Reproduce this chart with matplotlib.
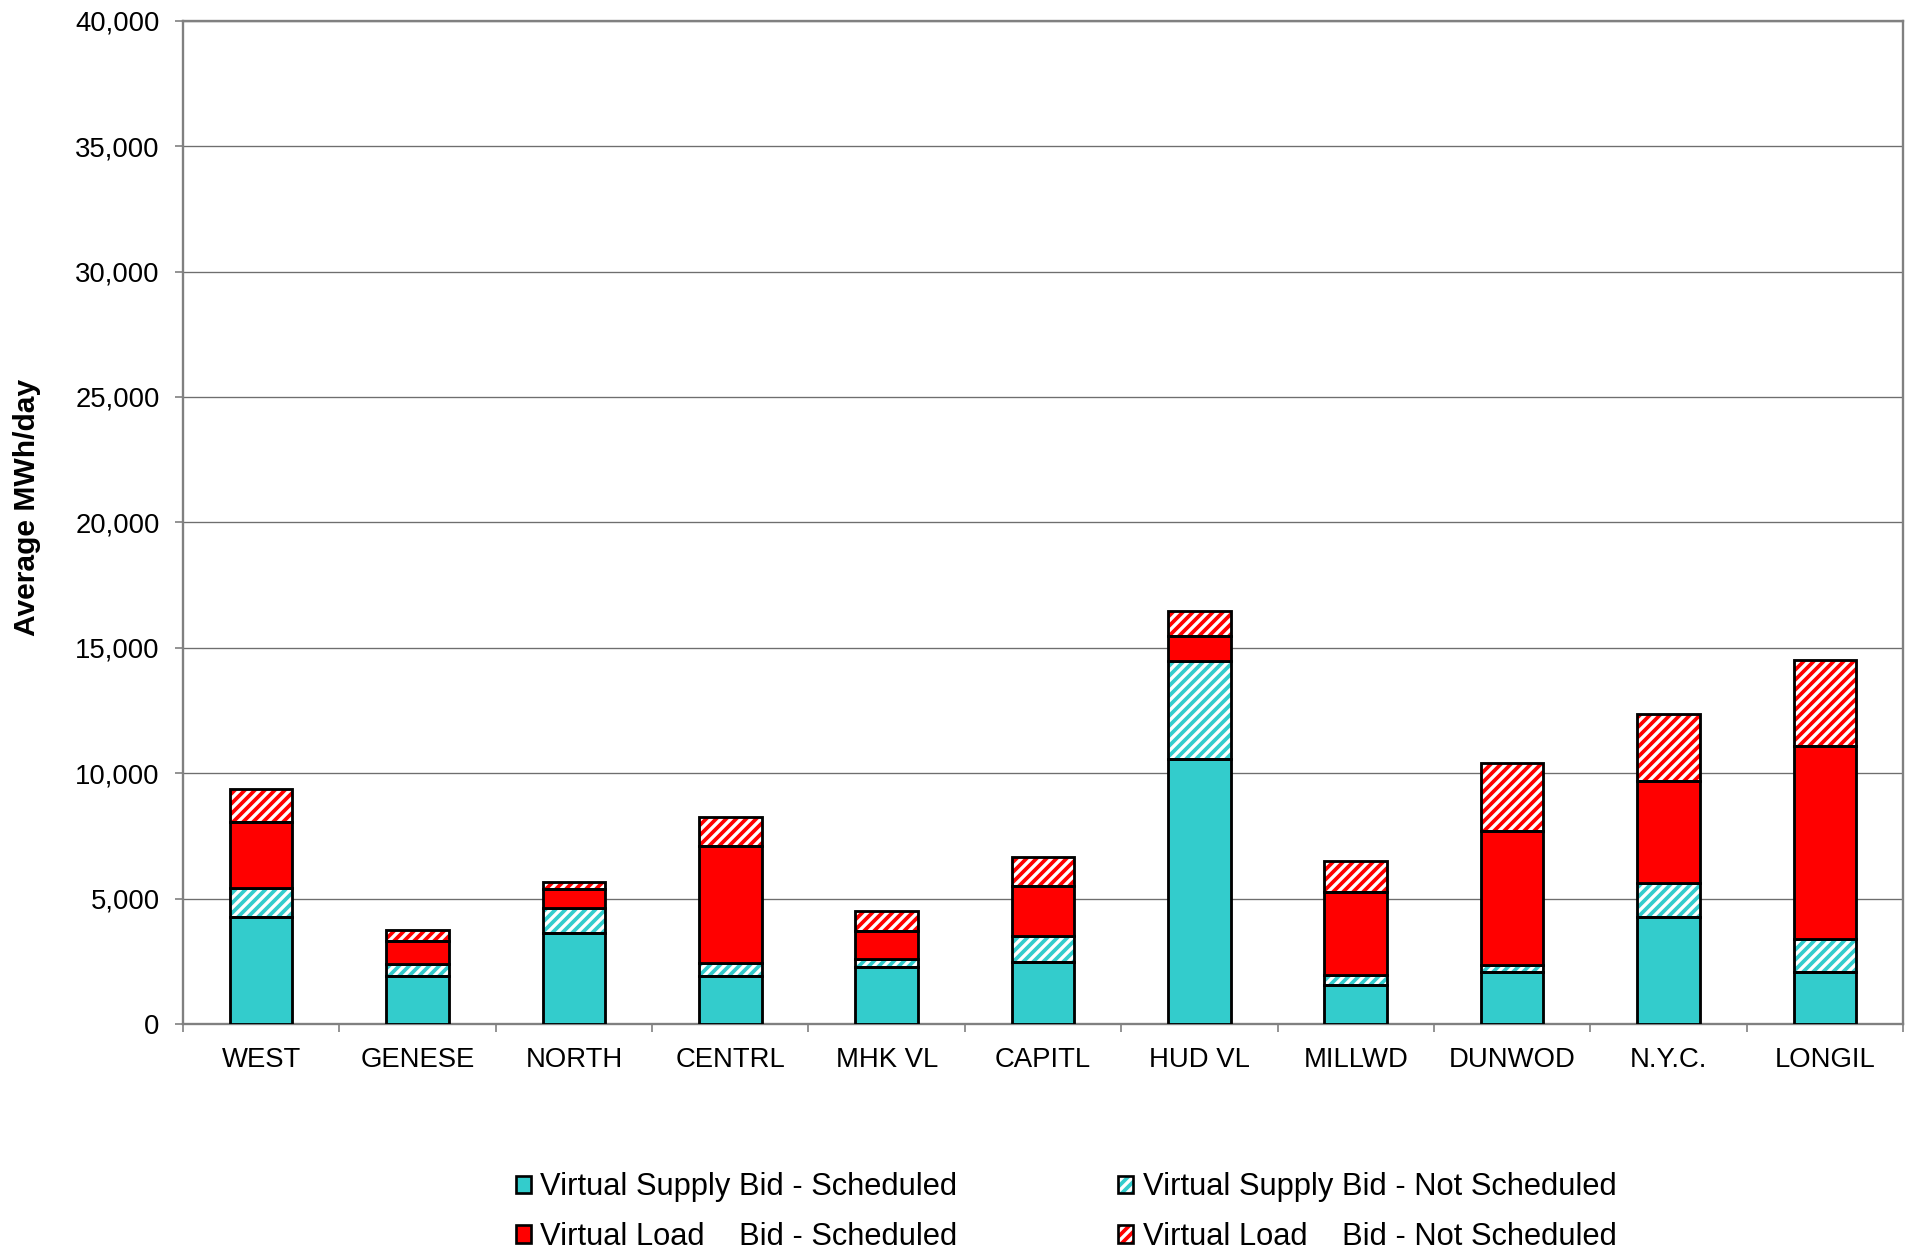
import matplotlib
matplotlib.use("Agg")
import matplotlib.pyplot as plt
from matplotlib.patches import Patch
from matplotlib.legend_handler import HandlerTuple
import numpy as np

# values (MWh/day)
ZONES = ["WEST", "GENESE", "NORTH", "CENTRL", "MHK VL", "CAPITL",
         "HUD VL", "MILLWD", "DUNWOD", "N.Y.C.", "LONGIL"]
SUPPLY_SCHED = [4250, 1900, 3625, 1900, 2270, 2470, 10570, 1570, 2060, 4260, 2060]
SUPPLY_NOT_SCHED = [1170, 490, 1000, 530, 330, 1050, 3920, 370, 300, 1380, 1340]
LOAD_SCHED = [2650, 900, 770, 4650, 1090, 1990, 980, 3320, 5340, 4050, 7700]
LOAD_NOT_SCHED = [1300, 470, 265, 1170, 820, 1140, 980, 1250, 2700, 2660, 3400]

LABELS = ["Virtual Supply Bid - Scheduled",
          "Virtual Supply Bid - Not Scheduled",
          "Virtual Load    Bid - Scheduled",
          "Virtual Load    Bid - Not Scheduled"]

TEAL = "#33CCCC"
RED = "#FF0000"
GREY = "#808080"
DPI = 120
W_PX, H_PX = 1913, 1252

plt.rcParams["font.family"] = ["Liberation Sans", "DejaVu Sans"]
plt.rcParams["hatch.linewidth"] = 2.0


def stack_segment(ax, x, vals, bottom, color, hatched):
    if hatched:
        ax.bar(x, vals, 0.4, bottom=bottom, color=color, edgecolor="white",
               hatch="////", linewidth=0, zorder=2)
        ax.bar(x, vals, 0.4, bottom=bottom, fill=False, edgecolor="black",
               linewidth=1.7, zorder=3)
    else:
        ax.bar(x, vals, 0.4, bottom=bottom, color=color, edgecolor="black",
               linewidth=1.7, zorder=3)


def legend_handle(color, hatched):
    outline = Patch(facecolor="none", edgecolor="black", linewidth=1.6)
    if not hatched:
        return Patch(facecolor=color, edgecolor="black", linewidth=1.6)
    fill = Patch(facecolor=color, edgecolor="white", hatch="////", linewidth=0)
    return (fill, outline)


fig = plt.figure(figsize=(W_PX / DPI, H_PX / DPI), dpi=DPI)
left, right, top, bottom = 183, 1903, 20.7, 1024
ax = fig.add_axes([left / W_PX, 1 - bottom / H_PX,
                   (right - left) / W_PX, (bottom - top) / H_PX])

x = np.arange(len(ZONES))
series = [(SUPPLY_SCHED, TEAL, False), (SUPPLY_NOT_SCHED, TEAL, True),
          (LOAD_SCHED, RED, False), (LOAD_NOT_SCHED, RED, True)]
base = np.zeros(len(ZONES))
for vals, color, hatched in series:
    stack_segment(ax, x, vals, base, color, hatched)
    base = base + np.array(vals)

ax.set_xlim(-0.5, len(ZONES) - 0.5)
ax.set_ylim(0, 40000)
ax.set_yticks(np.arange(0, 40001, 5000))
ax.set_yticklabels([f"{v:,}" for v in range(0, 40001, 5000)], fontsize=16.5)
ax.yaxis.grid(True, color="#6e6e6e", linewidth=0.8)
ax.set_axisbelow(True)

# boundary ticks as major, zone names on minor
ax.set_xticks(np.arange(-0.5, len(ZONES), 1.0))
ax.set_xticklabels([])
ax.set_xticks(x, minor=True)
ax.set_xticklabels(ZONES, minor=True, fontsize=16.5)
ax.tick_params(axis="x", which="minor", length=0, pad=14)
ax.tick_params(axis="x", which="major", length=5, width=1, color=GREY)
ax.tick_params(axis="y", length=5, width=1, color=GREY, pad=9)

for sp in ax.spines.values():
    sp.set_color(GREY)
    sp.set_linewidth(1.4)

ax.set_ylabel("Average MWh/day", fontsize=18, fontweight="bold", va="center")
ax.yaxis.set_label_coords((27 - left) / (right - left),
                          (bottom - 507) / (bottom - top))

handles = [legend_handle(TEAL, False), legend_handle(RED, False),
           legend_handle(TEAL, True), legend_handle(RED, True)]
labels = [LABELS[0], LABELS[2], LABELS[1], LABELS[3]]
fig.legend(handles, labels, ncol=2, loc="center",
           bbox_to_anchor=(1066 / W_PX, 1 - 1212 / H_PX),
           frameon=False, fontsize=18.5, handlelength=0.5, handleheight=0.5,
           handletextpad=0.3, columnspacing=5.2, labelspacing=0.63,
           handler_map={tuple: HandlerTuple(ndivide=1, pad=0)})

fig.savefig("out.png", dpi=DPI)
